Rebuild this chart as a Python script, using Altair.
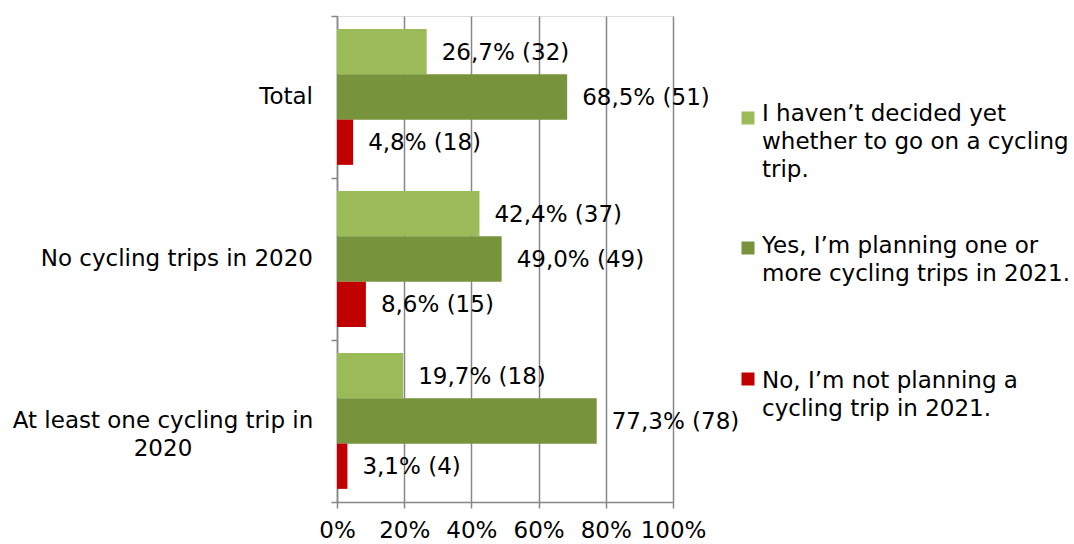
import altair as alt
import pandas as pd

# Survey groups (rows) and answer series
groups = ["Total", "No cycling trips in 2020", "At least one cycling trip in 2020"]
group_text = ["Total", "No cycling trips in 2020", "At least one cycling trip in\n2020"]

series = [
    "I haven\u2019t decided yet whether to go on a cycling trip.",
    "Yes, I\u2019m planning one or more cycling trips in 2021.",
    "No, I\u2019m not planning a cycling trip in 2021.",
]
series_lines = [
    ["I haven\u2019t decided yet", "whether to go on a cycling", "trip."],
    ["Yes, I\u2019m planning  one or", "more cycling trips in 2021."],
    ["No, I\u2019m not planning  a", "cycling trip in 2021."],
]
colors = ["#9BBB59", "#77933C", "#C00000"]

# Shares (%) and respondent counts per group
undecided_pct = [26.7, 42.4, 19.7]
undecided_n = [32, 37, 18]
planning_pct = [68.5, 49.0, 77.3]
planning_n = [51, 49, 78]
not_planning_pct = [4.8, 8.6, 3.1]
not_planning_n = [18, 15, 4]

pcts = [undecided_pct, planning_pct, not_planning_pct]
counts = [undecided_n, planning_n, not_planning_n]

rows = []
for s, pct_list, n_list in zip(series, pcts, counts):
    for g, p, n in zip(groups, pct_list, n_list):
        rows.append({
            "group": g,
            "series": s,
            "share": p / 100.0,
            "label": f"{p:.1f}".replace(".", ",") + f"% ({n})",
        })
df = pd.DataFrame(rows)
cat_df = pd.DataFrame({"group": groups, "text": group_text})

W, H = 336, 486
FONT = "DejaVu Sans"
FS = 23
GRID = "#878787"

color_scale = alt.Scale(domain=series, range=colors)

y_enc = alt.Y(
    "group:N", sort=groups,
    scale=alt.Scale(paddingInner=0, paddingOuter=0),
    axis=alt.Axis(labels=False, title=None, tickBand="extent", grid=False,
                  domainColor=GRID, domainWidth=1.5, tickColor=GRID,
                  tickWidth=1.5, tickSize=6),
)
yoff_enc = alt.YOffset("series:N", sort=series,
                       scale=alt.Scale(paddingInner=0, paddingOuter=0.29))
x_enc = alt.X(
    "share:Q",
    scale=alt.Scale(domain=[0, 1], nice=False),
    axis=alt.Axis(values=[0, 0.2, 0.4, 0.6, 0.8, 1.0], format=".0%", title=None,
                  grid=True, gridColor=GRID, gridWidth=1.5,
                  domainColor=GRID, domainWidth=1.5, tickColor=GRID,
                  tickWidth=1.5, tickSize=6, labelFont=FONT, labelFontSize=FS,
                  labelColor="#000000", labelPadding=11,
                  labelOverlap=False, labelFlush=False, labelBound=False),
)
color_enc = alt.Color("series:N", scale=color_scale, legend=None)

bars = alt.Chart(df).mark_bar().encode(
    x=x_enc, y=y_enc, yOffset=yoff_enc, color=color_enc
)

values = alt.Chart(df).mark_text(
    align="left", baseline="middle", dx=15, dy=1, font=FONT, fontSize=FS,
    color="#000000"
).encode(x="share:Q", y=alt.Y("group:N", sort=groups), yOffset=yoff_enc, text="label:N")

# Category labels to the left of the axis
single = alt.Chart(cat_df.iloc[:2]).mark_text(
    align="right", baseline="middle", font=FONT, fontSize=FS, color="#000000"
).encode(y=alt.Y("group:N", sort=groups), x=alt.value(-24), text="text:N")

multi = alt.Chart(cat_df.iloc[2:]).mark_text(
    align="center", baseline="middle", font=FONT, fontSize=FS, color="#000000",
    lineBreak="\n", lineHeight=28,
).encode(y=alt.Y("group:N", sort=groups), x=alt.value(-174), text="text:N")

# Legend drawn beside the plot
legend_layers = []
sym_y = [102, 232, 363]
first_base = [105, 237, 372]
for s, lines, sy, fb in zip(series, series_lines, sym_y, first_base):
    sdf = pd.DataFrame({"series": [s]})
    legend_layers.append(
        alt.Chart(sdf).mark_square(size=169, opacity=1).encode(
            x=alt.value(411), y=alt.value(sy), color=color_enc
        )
    )
    for k, line in enumerate(lines):
        ldf = pd.DataFrame({"series": [s], "line": [line]})
        legend_layers.append(
            alt.Chart(ldf).mark_text(
                align="left", baseline="alphabetic", font=FONT, fontSize=FS,
                color="#000000",
            ).encode(x=alt.value(425), y=alt.value(fb + 28 * k), text="line:N")
        )

chart = alt.layer(bars, values, single, multi, *legend_layers).properties(
    width=W, height=H,
    autosize=alt.AutoSizeParams(type="none"),
    padding={"left": 337, "top": 16, "right": 401, "bottom": 42},
).configure_view(stroke=None).configure(background="white")

chart.save("out.html", embed_options={"renderer": "svg", "actions": False})
